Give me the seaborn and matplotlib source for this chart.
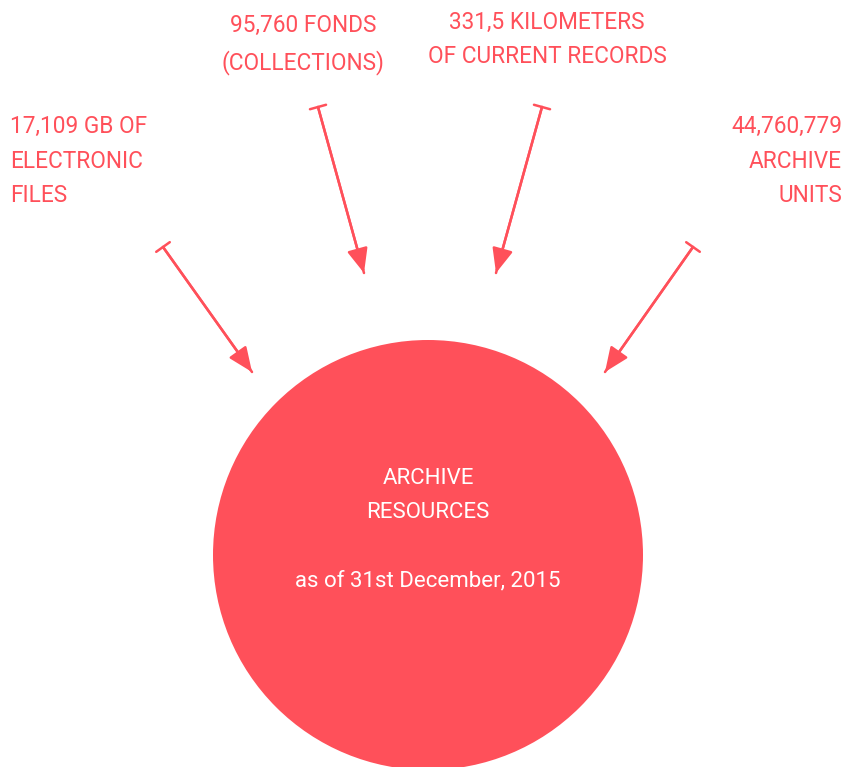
import matplotlib.pyplot as plt
import seaborn as sns
from matplotlib.patches import Circle, FancyArrowPatch

# chart content
CENTER_LINES = ['ARCHIVE', 'RESOURCES', '', 'as of 31st December, 2015']
LABELS = [
    '17,109 GB OF\nELECTRONIC\nFILES',
    '95,760 FONDS\n(COLLECTIONS)',
    '331,5 KILOMETERS\nOF CURRENT RECORDS',
    '44,760,779\nARCHIVE\nUNITS',
]

# layout (pixel coordinates of an 844x767 canvas, y pointing down)
LABEL_X = [10, 303, 547, 842]
LABEL_Y = [161, 44.5, 39.5, 161]
LABEL_HA = ['left', 'center', 'center', 'right']
ARROW_TAIL = [(163, 247), (318, 107), (542, 107), (693, 247)]
ARROW_HEAD = [(252, 372), (364, 273), (496, 273), (605, 372)]
CIRCLE_CENTER = (428, 555)
CIRCLE_RADIUS = 215

RED = '#FF505A'

sns.set_style('white')
plt.rcParams['font.family'] = ['Roboto', 'DejaVu Sans']

fig = plt.figure(figsize=(8.44, 7.67), dpi=100)
ax = fig.add_axes([0, 0, 1, 1])
ax.set_xlim(0, 844)
ax.set_ylim(767, 0)
ax.set_aspect('equal')
ax.axis('off')

ax.add_patch(Circle(CIRCLE_CENTER, CIRCLE_RADIUS, color=RED, lw=0))
ax.text(CIRCLE_CENTER[0], 530, '\n'.join(CENTER_LINES), color='white',
        fontsize=16, ha='center', va='center', linespacing=1.82)

for label, x, y, ha in zip(LABELS, LABEL_X, LABEL_Y, LABEL_HA):
    ax.text(x, y, label, color=RED, fontsize=16.3, ha=ha, va='center',
            linespacing=1.63)

for tail, head in zip(ARROW_TAIL, ARROW_HEAD):
    ax.add_patch(FancyArrowPatch(tail, head, arrowstyle='-|>,head_length=0.75,head_width=0.32',
                                 mutation_scale=20, color=RED, lw=1.8,
                                 shrinkA=0, shrinkB=0))
    ax.add_patch(FancyArrowPatch(tail, head, arrowstyle=']-,widthA=0.3,lengthA=0,angleA=0',
                                 mutation_scale=20, color=RED, lw=1.8,
                                 shrinkA=0, shrinkB=0))

fig.savefig('out.png', dpi=100, facecolor='white')
